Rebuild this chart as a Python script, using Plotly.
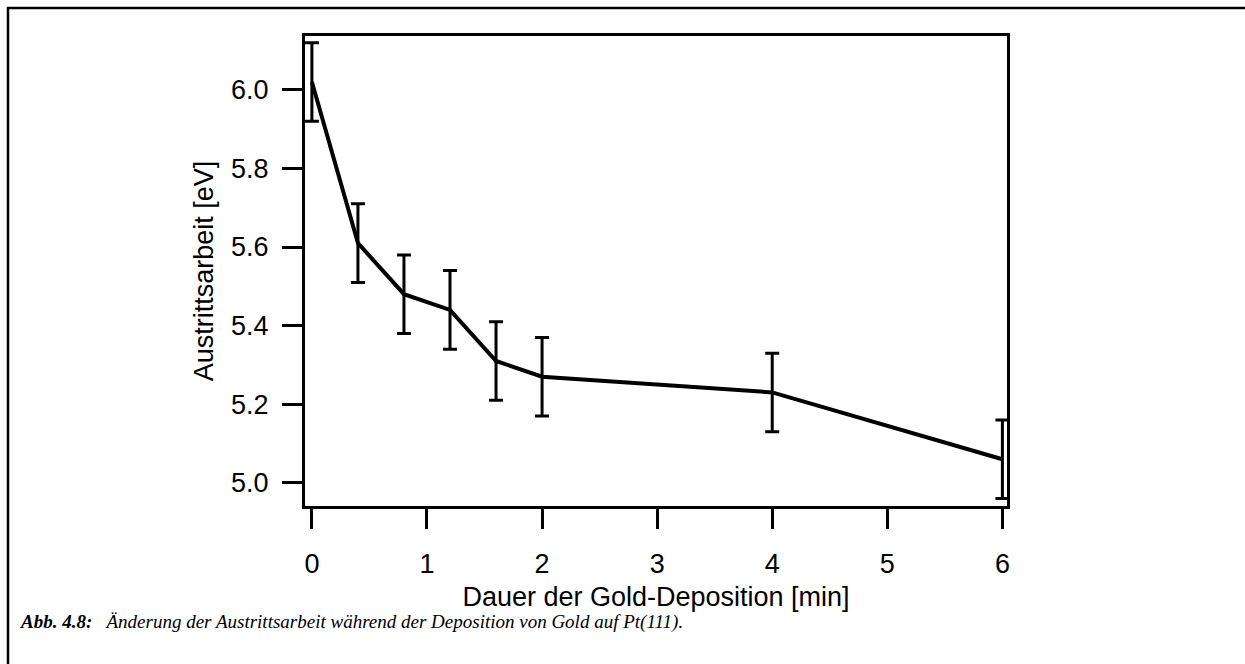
import plotly.graph_objects as go

# Work function vs. gold deposition time on Pt(111)
dauer_min = [0, 0.4, 0.8, 1.2, 1.6, 2.0, 4.0, 6.0]
austrittsarbeit_ev = [6.02, 5.61, 5.48, 5.44, 5.31, 5.27, 5.23, 5.06]
fehler_ev = [0.10, 0.10, 0.10, 0.10, 0.10, 0.10, 0.10, 0.10]

x_ticks = [0, 1, 2, 3, 4, 5, 6]
y_ticks = [5.0, 5.2, 5.4, 5.6, 5.8, 6.0]
y_tick_text = ["5.0", "5.2", "5.4", "5.6", "5.8", "6.0"]

W, H = 1245, 664
L, R, T, B = 305, 238, 36, 158
pw, ph = W - L - R, H - T - B

def px_x(p):
    return (p - L) / pw

def px_y(p):
    return (H - B - p) / ph

fig = go.Figure()
fig.add_trace(go.Scatter(
    x=dauer_min, y=austrittsarbeit_ev, mode="lines",
    line=dict(color="black", width=4),
    error_y=dict(type="data", array=fehler_ev, visible=True,
                 color="black", thickness=3, width=7),
    showlegend=False, hoverinfo="x+y",
))

axis_font = dict(family="Liberation Sans, Arial, sans-serif", size=27, color="black")

fig.update_xaxes(
    range=[-0.06, 6.04], tickvals=x_ticks, ticktext=[str(v) for v in x_ticks],
    showline=True, linecolor="black", linewidth=3, mirror=True,
    ticks="outside", ticklen=20, tickwidth=3, tickcolor="black",
    showgrid=False, zeroline=False, tickfont=axis_font,
    ticklabelstandoff=12,
    title=dict(text="Dauer der Gold-Deposition [min]", font=axis_font, standoff=9),
)
fig.update_yaxes(
    range=[4.941, 6.137], tickvals=y_ticks, ticktext=y_tick_text,
    showline=True, linecolor="black", linewidth=3, mirror=True,
    ticks="outside", ticklen=20, tickwidth=3, tickcolor="black",
    showgrid=False, zeroline=False, tickfont=axis_font,
    ticklabelstandoff=8,
    title=dict(text="Austrittsarbeit [eV]", font=axis_font, standoff=10),
)

# Figure frame: top and left rules
fig.add_shape(type="line", xref="paper", yref="paper",
              x0=px_x(7), x1=px_x(W), y0=px_y(8), y1=px_y(8),
              line=dict(color="black", width=2.5))
fig.add_shape(type="line", xref="paper", yref="paper",
              x0=px_x(8), x1=px_x(8), y0=px_y(7), y1=px_y(H),
              line=dict(color="black", width=2.5))

# Caption
fig.add_annotation(
    xref="paper", yref="paper", x=px_x(18), y=px_y(622),
    xanchor="left", yanchor="middle", showarrow=False,
    text="<b><i>Abb. 4.8:</i></b>   <i>Änderung der Austrittsarbeit während der Deposition von Gold auf Pt(111).</i>",
    font=dict(family="Liberation Serif, Times New Roman, serif", size=19, color="black"),
)

fig.update_layout(
    width=W, height=H,
    margin=dict(l=L, r=R, t=T, b=B),
    plot_bgcolor="white", paper_bgcolor="white",
)

fig.write_html("out.html")
